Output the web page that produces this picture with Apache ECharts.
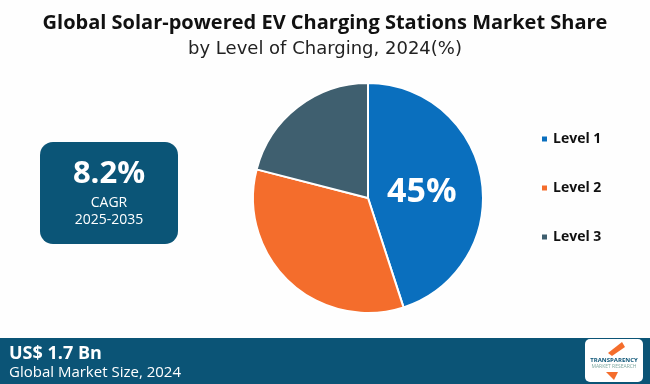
<!DOCTYPE html>
<html><head><meta charset="utf-8">
<script src="https://cdn.jsdelivr.net/npm/echarts@6/dist/echarts.min.js"></script>
<style>html,body{margin:0;padding:0;background:#fff}#c{width:650px;height:384px}</style>
</head><body><div id="c"></div>
<script>
const categories = ['Level 1', 'Level 2', 'Level 3'];
const shares = [45, 34, 21];
const colors = ['#0a6fbe', '#f46d2c', '#3f5f6f'];
const chart = echarts.init(document.getElementById('c'));
const font = 'Open Sans';
chart.setOption({
  animation: false,
  backgroundColor: '#fefefe',
  title: [
    {text: 'Global Solar-powered EV Charging Stations Market Share', left: 'center', top: 8,
     textStyle: {fontFamily: font, fontSize: 20, fontWeight: 'bold', color: '#111'}},
    {text: 'by Level of Charging, 2024(%)', left: 'center', top: 35,
     textStyle: {fontFamily: 'DejaVu Sans', fontSize: 18, fontWeight: 'normal', color: '#222'}}
  ],
  legend: {
    orient: 'vertical', left: 535, top: 127, itemGap: 35, itemWidth: 7, itemHeight: 7, icon: 'rect',
    textStyle: {fontFamily: font, fontSize: 14, fontWeight: 'bold', color: '#111'},
    data: categories
  },
  series: [{
    type: 'pie', center: [368, 198], radius: 115, startAngle: 90, clockwise: true,
    itemStyle: {borderColor: '#fff', borderWidth: 2},
    label: {show: false}, labelLine: {show: false},
    data: categories.map((c, i) => ({
      name: c, value: shares[i], itemStyle: {color: colors[i]},
      label: i === 0 ? {show: true, position: 'inside', formatter: '{c}%', color: '#fff',
        fontFamily: font, fontSize: 34, fontWeight: 'bold', offset: [-6, 4]} : {show: false}
    }))
  }],
  graphic: [
    {type: 'rect', shape: {x: 40, y: 142, width: 138, height: 102, r: 13}, style: {fill: '#0b5577'}},
    {type: 'text', style: {text: '8.2%', x: 109, y: 174, textAlign: 'center', textVerticalAlign: 'middle',
      fill: '#fff', font: 'bold 31px "Open Sans"'}},
    {type: 'text', style: {text: 'CAGR', x: 109, y: 203, textAlign: 'center', textVerticalAlign: 'middle',
      fill: '#fff', font: '14px "Open Sans"'}},
    {type: 'text', style: {text: '2025-2035', x: 109, y: 220, textAlign: 'center', textVerticalAlign: 'middle',
      fill: '#fff', font: '14px "Open Sans"'}},
    {type: 'rect', shape: {x: 0, y: 338, width: 650, height: 46}, style: {fill: '#0b5476'}},
    {type: 'text', style: {text: 'US$ 1.7 Bn', x: 9, y: 354, textVerticalAlign: 'middle',
      fill: '#fff', font: 'bold 18px "Open Sans"'}},
    {type: 'text', style: {text: 'Global Market Size, 2024', x: 9, y: 373, textVerticalAlign: 'middle',
      fill: '#fff', font: '15px "Open Sans"'}},
    {type: 'rect', shape: {x: 585, y: 339, width: 58, height: 43, r: 5}, style: {fill: '#fff'}},
    {type: 'polygon', shape: {points: [[608, 353], [622, 342], [625, 347], [612, 356]]}, style: {fill: '#f46d2c'}},
    {type: 'text', style: {text: 'TRANSPARENCY', x: 614, y: 360, textAlign: 'center', textVerticalAlign: 'middle',
      fill: '#0b5476', font: 'bold 6px "Open Sans"'}},
    {type: 'text', style: {text: 'MARKET RESEARCH', x: 614, y: 367, textAlign: 'center', textVerticalAlign: 'middle',
      fill: '#7fa8a0', font: '5px "Open Sans"'}},
    {type: 'polygon', shape: {points: [[606, 372], [614, 380], [618, 372]]}, style: {fill: '#f46d2c'}}
  ]
});
</script></body></html>
